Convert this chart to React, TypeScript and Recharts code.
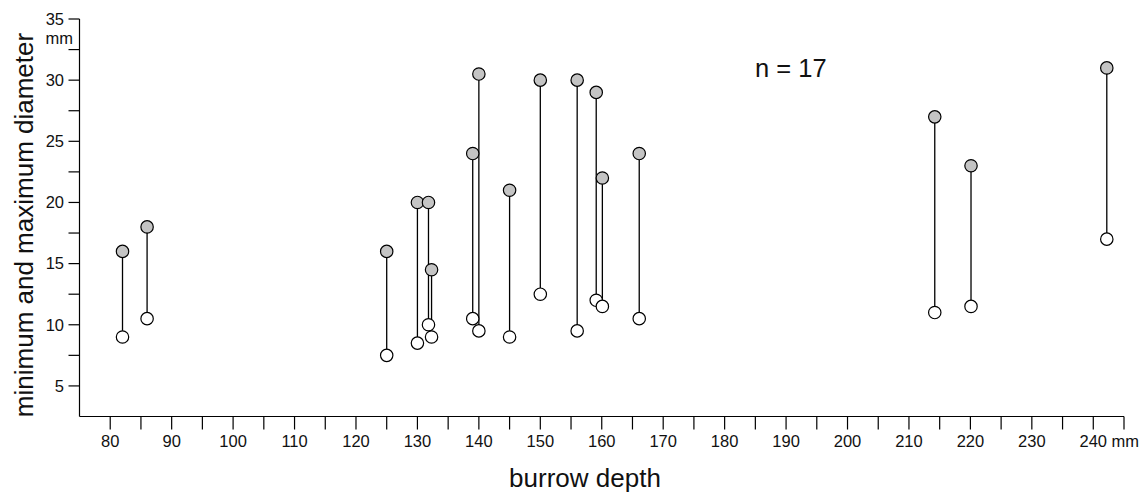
import React from 'react';
import { Scatter, ScatterChart, XAxis, YAxis } from 'recharts';

// burrow depth (mm) with min / max diameter (mm), one entry per burrow
const depths = [82, 86, 125, 130, 131.8, 132.3, 139, 140, 145, 150, 156, 159.1, 160.1, 166.1, 214.2, 220.1, 242.2];
const maxDiameters = [16, 18, 16, 20, 20, 14.5, 24, 30.5, 21, 30, 30, 29, 22, 24, 27, 23, 31];
const minDiameters = [9, 10.5, 7.5, 8.5, 10, 9, 10.5, 9.5, 9, 12.5, 9.5, 12, 11.5, 10.5, 11, 11.5, 17];

const depthTicks = [80, 85, 90, 95, 100, 105, 110, 115, 120, 125, 130, 135, 140, 145, 150, 155, 160, 165, 170, 175, 180, 185, 190, 195, 200, 205, 210, 215, 220, 225, 230, 235, 240, 245];
const diameterTicks = [5, 7.5, 10, 12.5, 15, 17.5, 20, 22.5, 25, 27.5, 30, 32.5, 35];

const FONT = '"Liberation Sans", Arial, sans-serif';
const INK = '#111';
const TICK_FONT = 16.5;

const maxPoints = depths.map((depth, i) => ({ depth, d: maxDiameters[i] }));
const minPoints = depths.map((depth, i) => ({ depth, d: minDiameters[i] }));
const spans = depths.map((depth, i) => [
  { depth, d: minDiameters[i] },
  { depth, d: maxDiameters[i] },
]);

const DepthTick = ({ x, y, payload }: any) => {
  const value = payload.value;
  if (value % 10 !== 0) return <g />;
  if (value === 240) {
    return (
      <text x={x - 13.8} y={y} dy="0.71em" textAnchor="start" fontSize={TICK_FONT} fontFamily={FONT} fill={INK}>
        240 mm
      </text>
    );
  }
  return (
    <text x={x} y={y} dy="0.71em" textAnchor="middle" fontSize={TICK_FONT} fontFamily={FONT} fill={INK}>
      {value}
    </text>
  );
};

const DiameterTick = ({ x, y, payload }: any) => {
  const value = payload.value;
  if (value % 5 !== 0) return <g />;
  return (
    <g>
      <text x={x} y={y} dy="0.355em" textAnchor="end" fontSize={TICK_FONT} fontFamily={FONT} fill={INK}>
        {value}
      </text>
      {value === 35 && (
        <text x={x + 9} y={y + 25} textAnchor="end" fontSize={TICK_FONT} fontFamily={FONT} fill={INK}>
          mm
        </text>
      )}
    </g>
  );
};

const dot = (fill: string) => (props: any) => (
  <circle cx={props.cx} cy={props.cy} r={6.2} fill={fill} stroke="#000" strokeWidth={1.2} />
);

export default function App() {
  return (
    <div style={{ position: 'absolute', left: 0, top: 0, width: 1146, height: 493, background: '#fff' }}>
      <ScatterChart width={1146} height={493} margin={{ top: 19, right: 22, bottom: 0, left: 0.5 }}>
        <XAxis
          type="number"
          dataKey="depth"
          domain={[75, 245]}
          ticks={depthTicks}
          interval={0}
          allowDataOverflow
          height={76.5}
          tickSize={13}
          tickMargin={6}
          tick={<DepthTick />}
          axisLine={{ stroke: '#000', strokeWidth: 1.2 }}
          tickLine={{ stroke: '#000', strokeWidth: 1.2 }}
        />
        <YAxis
          type="number"
          dataKey="d"
          domain={[2.5, 35]}
          ticks={diameterTicks}
          interval={0}
          allowDataOverflow
          width={79}
          tickSize={11}
          tickMargin={4.5}
          tick={<DiameterTick />}
          axisLine={{ stroke: '#000', strokeWidth: 1.2 }}
          tickLine={{ stroke: '#000', strokeWidth: 1.2 }}
        />
        {spans.map((span, i) => (
          <Scatter
            key={`span-${i}`}
            data={span}
            line={{ stroke: '#000', strokeWidth: 1.3 }}
            shape={() => <g />}
            isAnimationActive={false}
          />
        ))}
        <Scatter data={maxPoints} shape={dot('#c4c4c4')} isAnimationActive={false} />
        <Scatter data={minPoints} shape={dot('#ffffff')} isAnimationActive={false} />
      </ScatterChart>
      <svg
        width={1146}
        height={493}
        style={{ position: 'absolute', left: 0, top: 0, pointerEvents: 'none' }}
        fontFamily={FONT}
        fill={INK}
      >
        <text x={755} y={77.3} fontSize={25.5}>
          n = 17
        </text>
        <text x={585} y={486.5} fontSize={26} textAnchor="middle">
          burrow depth
        </text>
        <text transform="translate(33,225) rotate(-90)" fontSize={26} textAnchor="middle">
          minimum and maximum diameter
        </text>
      </svg>
    </div>
  );
}
